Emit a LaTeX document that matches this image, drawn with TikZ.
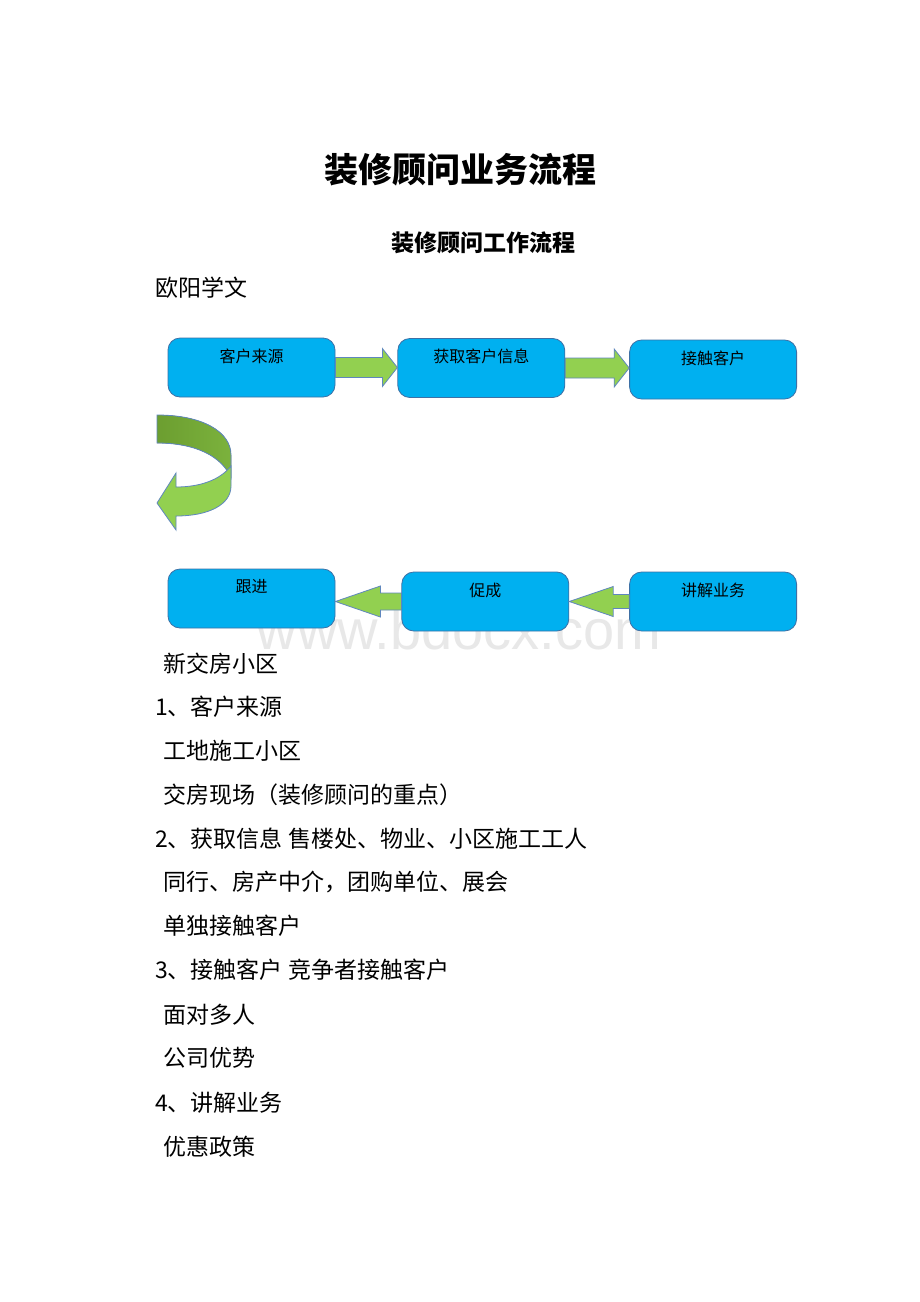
\documentclass[tikz,border=0pt]{standalone}
\usepackage{fontspec}
\newfontfamily\cjk{Noto Sans CJK SC}
\newfontfamily\wmfont{Liberation Sans}
\usetikzlibrary{positioning,calc}
\definecolor{boxblue}{RGB}{0,176,240}
\definecolor{boxline}{RGB}{62,112,165}
\definecolor{agreen}{RGB}{146,208,80}
\definecolor{dgreen}{RGB}{108,158,48}
\definecolor{aline}{RGB}{95,135,190}
\newcommand{\blockarrow}[5]{%
\filldraw[garrow] let \p1=(#1), \p2=(#2) in
({\x1},{\y1+#3}) -- ({\x2-1*(#5)},{\y1+#3}) -- ({\x2-1*(#5)},{\y1+#4}) -- ({\x2},{\y1})
-- ({\x2-1*(#5)},{\y1-#4}) -- ({\x2-1*(#5)},{\y1-#3}) -- ({\x1},{\y1-#3}) -- cycle;}

\begin{document}
\begin{tikzpicture}[x=1pt,y=-1pt,node distance=62pt,
proc/.style={rectangle,rounded corners=12pt,draw=boxline,line width=0.8pt,fill=boxblue,minimum width=167pt,minimum height=59pt,inner sep=0pt},
lbl/.style={anchor=north,yshift=-11pt,inner sep=0pt,font=\cjk\fontsize{16}{18}\selectfont},
garrow/.style={fill=agreen,draw=aline,line width=0.8pt},
body/.style={anchor=west,inner sep=0pt,font=\cjk\fontsize{23}{27}\selectfont}]

\fill[white] (0,0) rectangle (920,1302);
\useasboundingbox (0,0) rectangle (920,1302);

\node[inner sep=0pt,font=\cjk\bfseries\fontsize{34}{40}\selectfont] (title) at (460,170) {装修顾问业务流程};
\node[inner sep=0pt,font=\cjk\bfseries\fontsize{23}{28}\selectfont] (subtitle) at (483,243) {装修顾问工作流程};
\node[body] (author) at (155,288) {欧阳学文};

\node[anchor=base,inner sep=0pt,text=black!9,font=\wmfont\fontsize{56}{60}\selectfont] (wm) at (459,649) {www.bdocx.com};

\node[proc,label={[lbl]north:客户来源}] (source) at (251.5,367.5) {};
\node[proc,label={[lbl]north:获取客户信息}] (info) [right=62pt of source,yshift=-0.5pt] {};
\node[proc,label={[lbl]north:接触客户}] (contact) [right=64pt of info,yshift=-1.5pt] {};

\node[proc,label={[lbl]north:跟进}] (follow) at (251.5,598.5) {};
\node[proc,label={[lbl]north:促成}] (deal) [right=66pt of follow,yshift=-3pt] {};
\node[proc,label={[lbl]north:讲解业务}] (explain) [right=60pt of deal] {};

\blockarrow{source.east}{info.west}{10pt}{19pt}{15pt}
\blockarrow{info.east}{contact.west}{10pt}{19pt}{15pt}
\blockarrow{deal.west}{follow.east}{8.5pt}{15.5pt}{-45pt}
\blockarrow{explain.west}{deal.east}{7pt}{15pt}{-44pt}

\filldraw[left color=dgreen,right color=dgreen!60!agreen,draw=aline,line width=0.8pt]
(157,415) .. controls (203,415) and (231,432) .. (231,455) -- (231,478)
.. controls (222,456) and (195,443) .. (157,443) -- cycle;
\filldraw[fill=agreen,draw=aline,line width=0.8pt]
(231,466) -- (231,486) .. controls (231,505) and (208,516) .. (176,516)
-- (176,530) -- (157,503) -- (176,473) -- (176,487)
.. controls (200,487) and (220,480) .. (231,466) -- cycle;

\node[body] (t1) at (163,664) {新交房小区};
\node[body] (t2) at (155,707) {1、客户来源};
\node[body] (t3) at (163,751) {工地施工小区};
\node[body] (t4) at (163,795) {交房现场（装修顾问的重点）};
\node[body] (t5) at (155,839) {2、获取信息 售楼处、物业、小区施工工人};
\node[body] (t6) at (163,882) {同行、房产中介，团购单位、展会};
\node[body] (t7) at (163,926) {单独接触客户};
\node[body] (t8) at (155,970) {3、接触客户 竞争者接触客户};
\node[body] (t9) at (163,1015) {面对多人};
\node[body] (t10) at (163,1058) {公司优势};
\node[body] (t11) at (155,1103) {4、讲解业务};
\node[body] (t12) at (163,1147) {优惠政策};

\end{tikzpicture}
\end{document}
